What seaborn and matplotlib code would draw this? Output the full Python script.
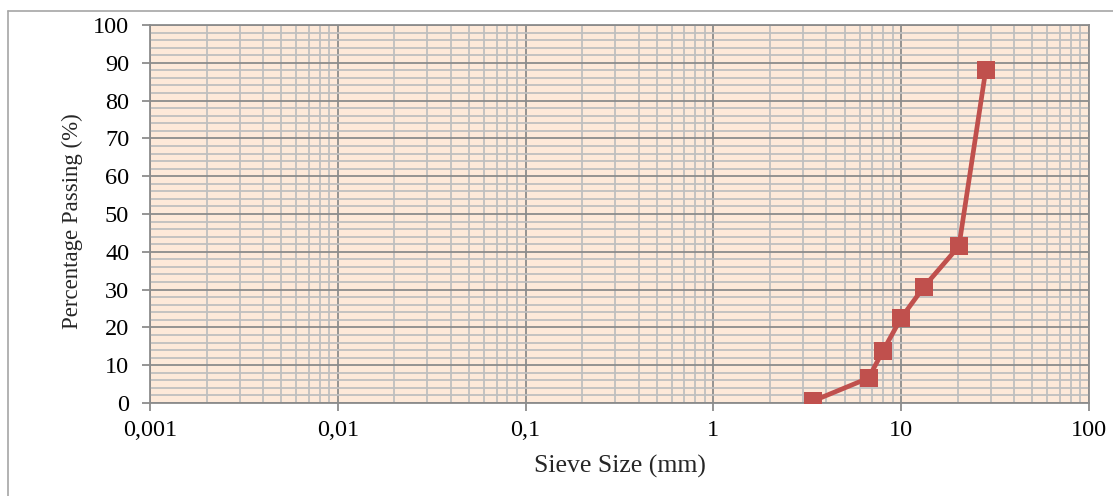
import matplotlib
matplotlib.use("Agg")
import matplotlib.pyplot as plt
from matplotlib.ticker import LogLocator, FixedLocator, FuncFormatter, MultipleLocator
from matplotlib.lines import Line2D
import seaborn as sns
import pandas as pd

# sieve analysis data
sieve_mm = [3.38, 6.7, 8.0, 10.0, 13.2, 20.3, 28.2]
passing_pct = [0.5, 6.6, 13.8, 22.5, 30.7, 41.5, 88.1]

x_ticks = [0.001, 0.01, 0.1, 1, 10, 100]
x_tick_labels = ["0,001", "0,01", "0,1", "1", "10", "100"]

df = pd.DataFrame({"sieve": sieve_mm, "passing": passing_pct})

sns.set_style("white")
plt.rcParams["font.family"] = ["Liberation Serif", "DejaVu Serif"]

fig = plt.figure(figsize=(11.13, 4.96), dpi=100)
ax = fig.add_axes([150 / 1113, 1 - 403 / 496, (1089 - 150) / 1113, (403 - 25) / 496])
ax.set_facecolor("#FDE9D9")

sns.lineplot(data=df, x="sieve", y="passing", ax=ax, color="#C0504D",
             linewidth=3.4, marker="s", markersize=13, markeredgewidth=0,
             zorder=5)

ax.set_xscale("log")
ax.set_xlim(0.001, 100)
ax.set_ylim(0, 100)

ax.xaxis.set_major_locator(FixedLocator(x_ticks))
ax.xaxis.set_major_formatter(FuncFormatter(lambda v, p: x_tick_labels[x_ticks.index(v)] if v in x_ticks else ""))
ax.xaxis.set_minor_locator(LogLocator(base=10, subs=range(2, 10), numticks=20))
ax.xaxis.set_minor_formatter(FuncFormatter(lambda v, p: ""))
ax.yaxis.set_major_locator(MultipleLocator(10))
ax.yaxis.set_minor_locator(MultipleLocator(2))

ax.grid(which="minor", color="#BFBFBF", linewidth=1.3)
ax.grid(which="major", color="#8C8C8C", linewidth=1.3)
ax.set_axisbelow(True)

for side in ["left", "bottom", "right", "top"]:
    ax.spines[side].set_color("#8C8C8C")
    ax.spines[side].set_linewidth(1.3)

ax.tick_params(axis="both", which="major", direction="out", length=6, width=1.3,
               color="#8C8C8C", labelsize=17.5, labelcolor="black")
ax.tick_params(axis="x", which="major", pad=6)
ax.tick_params(axis="y", which="major", pad=9)
ax.tick_params(which="minor", length=0)
ax.tick_params(axis="both", which="both", bottom=True, left=True, top=False, right=False)

ax.set_xlabel("Sieve Size (mm)", fontsize=18.5, labelpad=10)
ax.set_ylabel("Percentage Passing (%)", fontsize=16.5)
ax.yaxis.set_label_coords(-0.071, 0.48)

# chart frame (top and left edges visible)
fig.add_artist(Line2D([8 / 1113, 1], [1 - 11 / 496, 1 - 11 / 496], color="#A6A6A6", linewidth=1.2))
fig.add_artist(Line2D([8 / 1113, 8 / 1113], [0, 1 - 11 / 496], color="#A6A6A6", linewidth=1.2))

fig.savefig("out.png", dpi=100)
plt.close(fig)
